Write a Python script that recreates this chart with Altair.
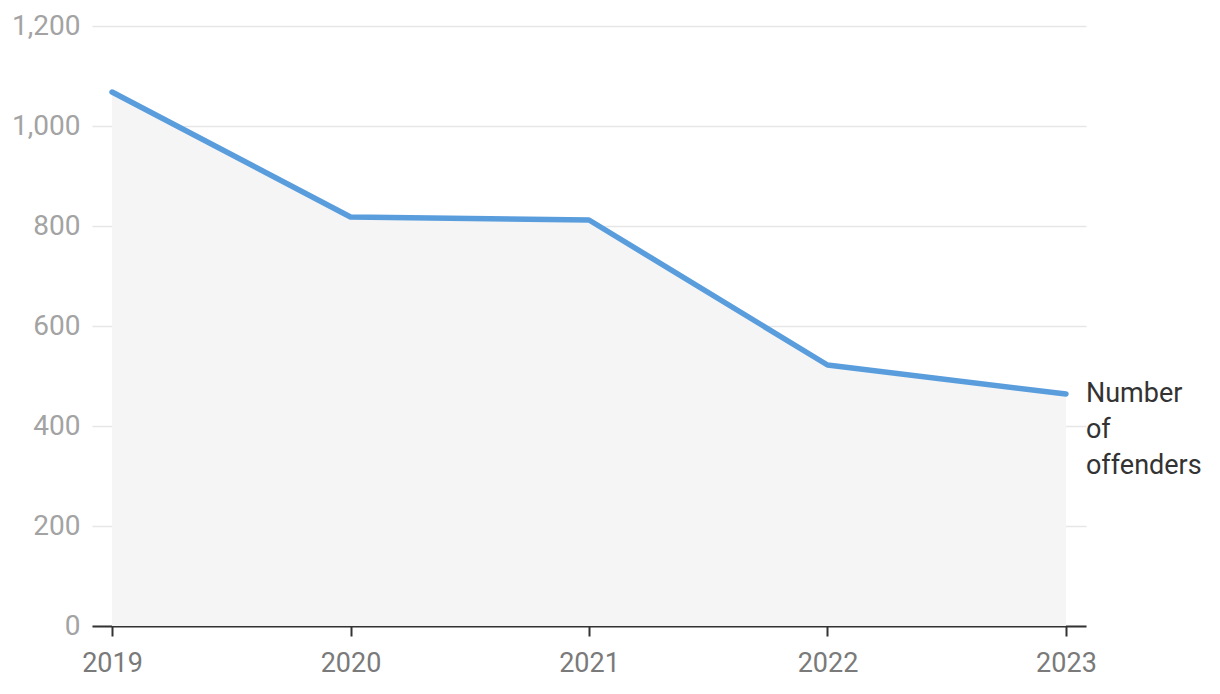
import altair as alt
import pandas as pd

years = ["2019", "2020", "2021", "2022", "2023"]
offenders = [1068, 818, 812, 522, 464]
series_label = "Number\nof\noffenders"

df = pd.DataFrame({"year": years, "value": offenders})
last = pd.DataFrame({"year": [years[-1]], "value": [offenders[-1]], "label": [series_label]})

FONT = "Roboto"

x = alt.X("year:O",
          scale=alt.Scale(type="point", padding=0.084),
          axis=alt.Axis(title=None, labelAngle=0, domainColor="#333333", domainWidth=2,
                        tickColor="#333333", tickWidth=2, tickSize=10,
                        labelColor="#7a7a7a", labelFontSize=27, labelFont=FONT,
                        labelPadding=14, grid=False))
y = alt.Y("value:Q",
          scale=alt.Scale(domain=[0, 1200]),
          axis=alt.Axis(title=None, values=[0, 200, 400, 600, 800, 1000, 1200], format=",.0f",
                        domain=False, ticks=False, labelColor="#a3a3a3", labelFontSize=28,
                        labelFont=FONT, labelFontWeight=400, labelPadding=12,
                        gridColor="#e6e6e6", gridWidth=1.5))

area = alt.Chart(df).mark_area(color="#f5f5f5", opacity=1).encode(x=x, y=y)
line = alt.Chart(df).mark_line(color="#5a9ddd", strokeWidth=5.5, strokeCap="round",
                               strokeJoin="round").encode(x=x, y=y)
text = alt.Chart(last).mark_text(align="left", baseline="middle", dx=20, dy=0,
                                 fontSize=27, font=FONT, color="#333333",
                                 lineBreak="\n", lineHeight=36).encode(
    x=x, y=y, text="label:N")

chart = alt.layer(area, line, text).properties(
    width=994, height=600,
    autosize=alt.AutoSizeParams(type="none"),
    padding={"left": 84, "top": 18, "right": 126, "bottom": 60},
).configure_view(stroke=None)

chart.save("out.html", embed_options={"renderer": "svg", "actions": False})
